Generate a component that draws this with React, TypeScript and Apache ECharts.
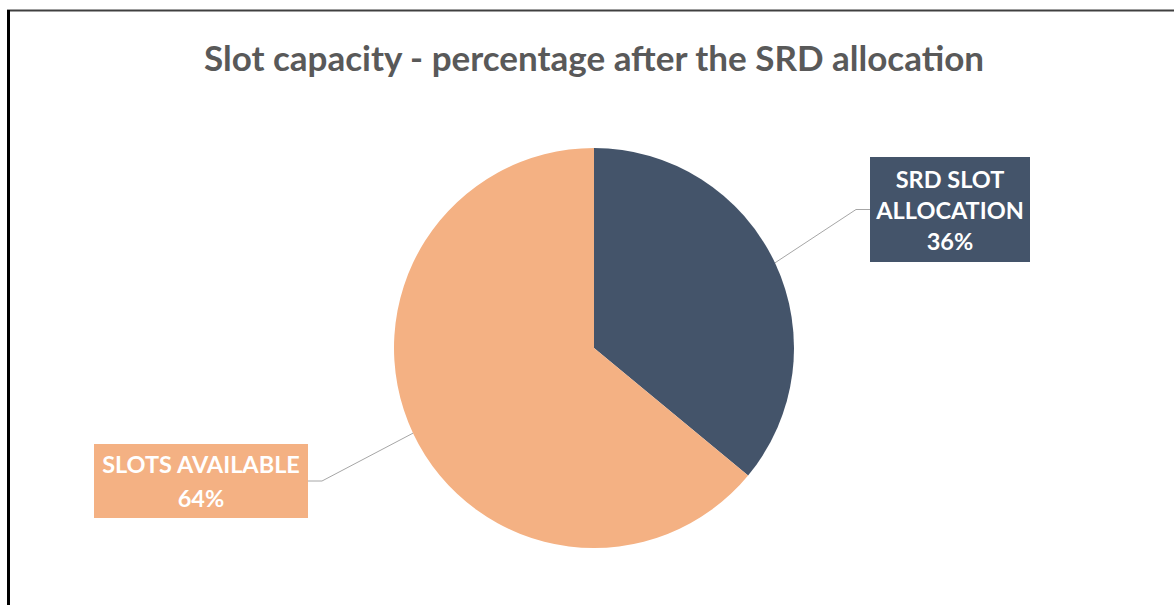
import React, { useEffect, useRef } from "react";
import * as echarts from "echarts";

const categories = ["SRD SLOT\nALLOCATION", "SLOTS AVAILABLE"];
const values = [36, 64];
const colors = ["#44546A", "#F4B183"];
const titleText = "Slot capacity - percentage after the SRD allocation";

export default function App() {
  const ref = useRef<HTMLDivElement>(null);
  useEffect(() => {
    if (!ref.current) return;
    const chart = echarts.init(ref.current, undefined, { renderer: "svg" });
    const labelWidths = [148, 202];
    const labelPads = [[6, 6], [3, 6]];
    const labelLineHeights = [31, 34];
    const labelPos = [
      { x: 950, y: 209.5 },
      { x: 201, y: 481 },
    ];
    chart.setOption({
      animation: false,
      backgroundColor: "#ffffff",
      title: {
        text: titleText,
        left: 199,
        top: 34,
        textStyle: {
          fontFamily: "Lato",
          fontWeight: "bold",
          fontSize: 35,
          color: "#595959",
        },
      },
      graphic: [
        {
          type: "line",
          shape: { x1: 7, y1: 10.5, x2: 1174, y2: 10.5 },
          style: { stroke: "#404040", lineWidth: 2 },
        },
        {
          type: "line",
          shape: { x1: 8.5, y1: 10, x2: 8.5, y2: 605 },
          style: { stroke: "#000000", lineWidth: 3 },
        },
      ],
      series: [
        {
          type: "pie",
          center: [594, 348],
          radius: 200,
          startAngle: 90,
          clockwise: true,
          itemStyle: { borderColor: "#ffffff", borderWidth: 0 },
          labelLine: {
            show: true,
            length: 20,
            length2: 14,
            lineStyle: { color: "#A6A6A6", width: 1 },
          },
          label: {
            show: true,
            position: "outside",
            formatter: "{b}\n{d}%",
            fontFamily: "Lato",
            fontWeight: "bold",
            fontSize: 23.5,
            lineHeight: 31,
            color: "#ffffff",
            align: "center",
          },
          labelLayout: (params: any) => {
            const p = labelPos[params.dataIndex];
            return { x: p.x, y: p.y, align: "center", verticalAlign: "middle" };
          },
          data: categories.map((name, i) => ({
            name,
            value: values[i],
            itemStyle: { color: colors[i] },
            label: {
              backgroundColor: colors[i],
              padding: labelPads[i],
              width: labelWidths[i],
              lineHeight: labelLineHeights[i],
              overflow: "none",
            },
          })),
        },
      ],
    });
    return () => chart.dispose();
  }, []);
  return (
    <div
      ref={ref}
      style={{ position: "absolute", left: 0, top: 0, width: 1174, height: 605 }}
    />
  );
}
